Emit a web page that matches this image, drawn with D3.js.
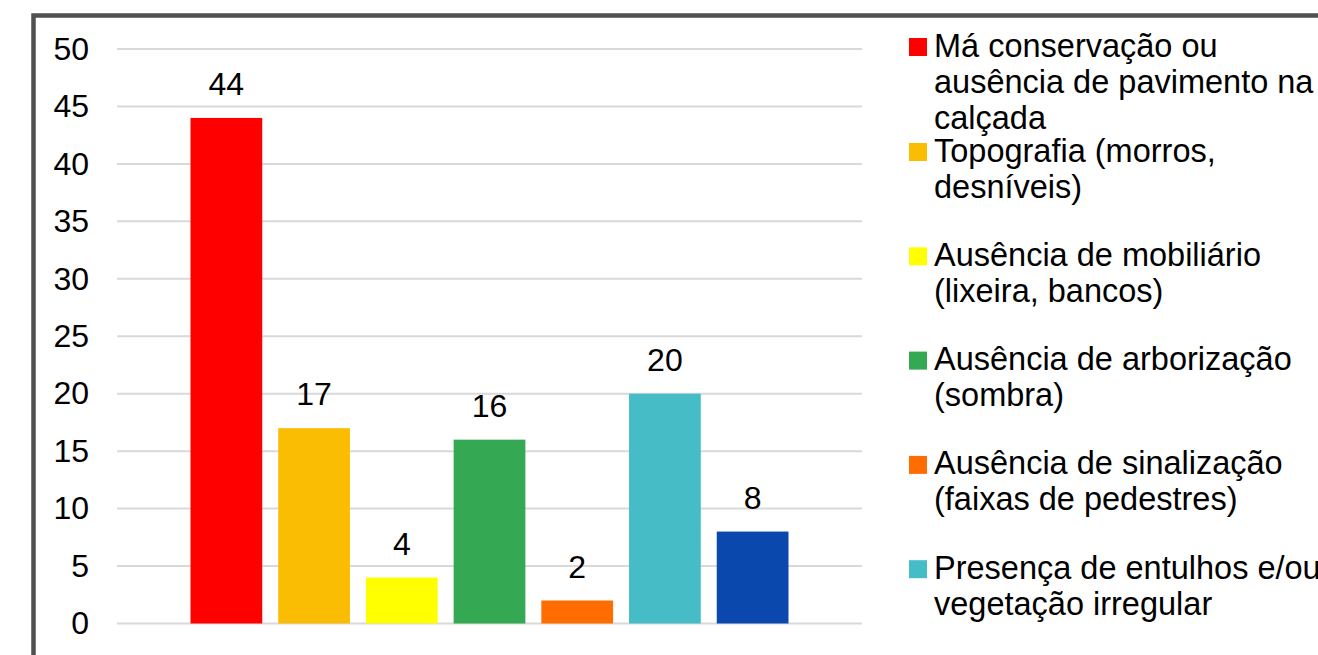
<!DOCTYPE html>
<html lang="pt">
<head>
<meta charset="utf-8">
<script src="https://cdn.jsdelivr.net/npm/d3@7"></script>
<style>
  html, body { margin: 0; padding: 0; background: #ffffff; }
  svg { display: block; font-family: "Liberation Sans", Arial, sans-serif; }
</style>
</head>
<body>
<svg id="chart" width="1318" height="655"></svg>
<script>
// Problem counts per reported category
const values = [44, 17, 4, 16, 2, 20, 8];
const barColors = ["#ff0000", "#fbbc04", "#ffff00", "#34a853", "#ff6d01", "#46bdc6", "#0b48ad"];
// Legend entries (already broken into lines)
const legendLabels = [
  ["Má conservação ou", "ausência de pavimento na", "calçada"],
  ["Topografia (morros,", "desníveis)"],
  ["Ausência de mobiliário", "(lixeira, bancos)"],
  ["Ausência de arborização", "(sombra)"],
  ["Ausência de sinalização", "(faixas de pedestres)"],
  ["Presença de entulhos e/ou", "vegetação irregular"]
];
const yTicks = [0, 5, 10, 15, 20, 25, 30, 35, 40, 45, 50];

const svg = d3.select("#chart");
const W = 1318, H = 655;
const fontSize = 32;
const legendFontSize = 32.5;

// outer frame of the chart area
svg.append("rect")
  .attr("x", 33.5).attr("y", 15.5)
  .attr("width", W + 40).attr("height", H + 40)
  .attr("fill", "#ffffff")
  .attr("stroke", "#505050")
  .attr("stroke-width", 4.5);

const plot = { left: 117, right: 862, top: 49, bottom: 623.5 };

const y = d3.scaleLinear().domain([0, 50]).range([plot.bottom, plot.top]);
const x = d3.scaleBand()
  .domain(d3.range(values.length))
  .range([plot.left, plot.right])
  .paddingInner(0.182)
  .paddingOuter(0.838);

// horizontal gridlines
svg.append("g")
  .selectAll("line")
  .data(yTicks)
  .join("line")
  .attr("x1", plot.left).attr("x2", plot.right)
  .attr("y1", d => y(d)).attr("y2", d => y(d))
  .attr("stroke", "#d9d9d9")
  .attr("stroke-width", 2);

// y axis labels
const yAxis = d3.axisLeft(y).tickValues(yTicks).tickSize(0).tickPadding(0);
const gy = svg.append("g")
  .attr("transform", "translate(89,0)")
  .call(yAxis);
gy.select(".domain").remove();
gy.selectAll("text")
  .attr("font-size", fontSize)
  .attr("font-family", "\"Liberation Sans\", Arial, sans-serif")
  .attr("fill", "#000000");

// bars
svg.append("g")
  .selectAll("rect")
  .data(values)
  .join("rect")
  .attr("x", (d, i) => x(i))
  .attr("y", d => y(d))
  .attr("width", x.bandwidth())
  .attr("height", d => y(0) - y(d))
  .attr("fill", (d, i) => barColors[i]);

// value labels above bars
svg.append("g")
  .selectAll("text")
  .data(values)
  .join("text")
  .attr("x", (d, i) => x(i) + x.bandwidth() / 2)
  .attr("y", d => y(d) - 23)
  .attr("text-anchor", "middle")
  .attr("font-size", fontSize)
  .attr("fill", "#000000")
  .text(d => d);

// legend: fixed-height slots, text centred in each slot,
// pushed down when it would rise above the top of the legend area
const legend = svg.append("g");
const slotH = 104.3, lineH = 36, firstSlotMid = 64.2, minFirstMid = 45.5;
const swatch = 18, swatchX = 909, textX = 934;

legendLabels.forEach((lines, i) => {
  const mid = firstSlotMid + i * slotH;
  let firstMid = mid - (lines.length - 1) * lineH / 2;
  if (firstMid < minFirstMid) firstMid = minFirstMid;
  const g = legend.append("g");
  g.append("rect")
    .attr("x", swatchX)
    .attr("y", firstMid - swatch / 2 + 1.5)
    .attr("width", swatch).attr("height", swatch)
    .attr("fill", barColors[i]);
  g.selectAll("text")
    .data(lines)
    .join("text")
    .attr("x", textX)
    .attr("y", (d, j) => firstMid + j * lineH + 11)
    .attr("font-size", legendFontSize)
    .attr("fill", "#000000")
    .text(d => d);
});
</script>
</body>
</html>
